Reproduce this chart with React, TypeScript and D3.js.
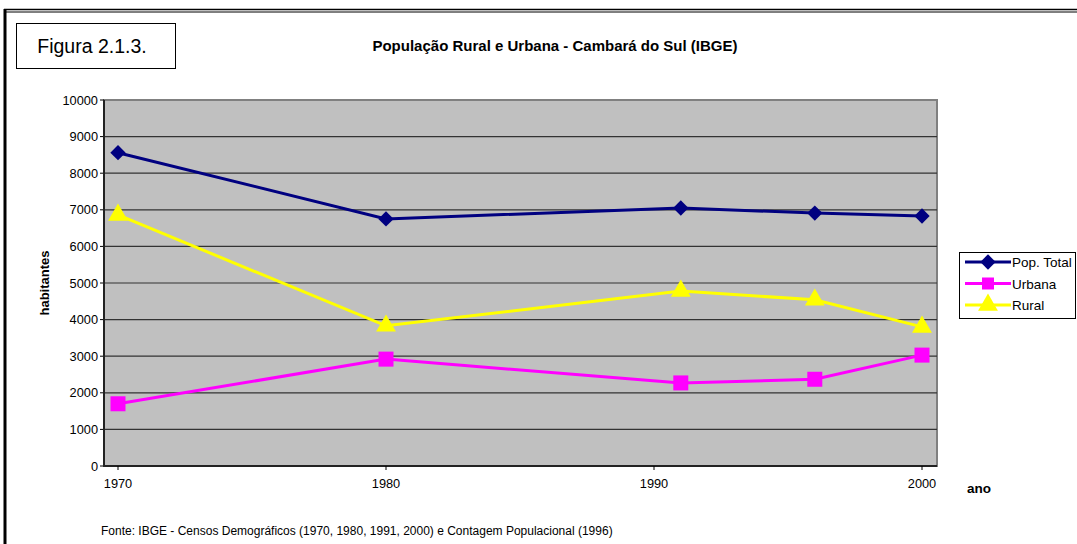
import React from "react";
import * as d3 from "d3";

const years = [1970, 1980, 1991, 1996, 2000];
const popTotal = [8560, 6750, 7050, 6910, 6830];
const urbana = [1700, 2920, 2270, 2370, 3030];
const rural = [6860, 3830, 4780, 4540, 3800];
const xTicks = [1970, 1980, 1990, 2000];
const yTicks = [0, 1000, 2000, 3000, 4000, 5000, 6000, 7000, 8000, 9000, 10000];

const seriesList = [
  { name: "Pop. Total", values: popTotal, color: "#000080", shape: "diamond" },
  { name: "Urbana", values: urbana, color: "#ff00ff", shape: "square" },
  { name: "Rural", values: rural, color: "#ffff00", shape: "triangle" },
];

const W = 1077;
const H = 544;
const plot = { left: 104, right: 937, top: 100, bottom: 466 };
const font = "Arial, 'Liberation Sans', sans-serif";

const Marker = ({ shape, color, x, y }: { shape: string; color: string; x: number; y: number }) => {
  if (shape === "diamond") {
    const p = d3.symbol(d3.symbolDiamond2, 150)();
    return <path d={p || ""} transform={`translate(${x},${y})`} fill={color} />;
  }
  if (shape === "square") {
    return <rect x={x - 7.5} y={y - 7.5} width={15} height={15} fill={color} />;
  }
  const t = d3.symbol(d3.symbolTriangle, 170)();
  return <path d={t || ""} transform={`translate(${x},${y})`} fill={color} />;
};

export default function App() {
  const x = d3.scaleLinear().domain([1970, 2000]).range([118, 922]);
  const y = d3.scaleLinear().domain([0, 10000]).range([plot.bottom, plot.top]);
  const line = d3
    .line<number>()
    .x((_, i) => x(years[i]))
    .y((d) => y(d));

  return (
    <svg
      width={W}
      height={H}
      style={{ position: "absolute", left: 0, top: 0, fontFamily: font }}
    >
      <rect width={W} height={H} fill="#fff" />
      {/* frame */}
      <line x1={4} x2={W} y1={9.5} y2={9.5} stroke="#000" strokeWidth={1.5} />
      <line x1={4} x2={W} y1={12} y2={12} stroke="#000" strokeWidth={1} />
      <line x1={5} x2={5} y1={9} y2={H} stroke="#000" strokeWidth={3} />

      {/* figure label box */}
      <rect x={16.5} y={23.5} width={159} height={45} fill="#fff" stroke="#000" strokeWidth={1} />
      <text x={92} y={53} textAnchor="middle" fontSize={19.5}>
        Figura 2.1.3.
      </text>
      <text x={555} y={51} textAnchor="middle" fontSize={15} fontWeight="bold">
        População Rural e Urbana - Cambará do Sul (IBGE)
      </text>

      {/* plot area */}
      <rect
        x={plot.left}
        y={plot.top}
        width={plot.right - plot.left}
        height={plot.bottom - plot.top}
        fill="#c0c0c0"
        stroke="#808080"
        strokeWidth={2}
      />
      {yTicks.map((t) => (
        <g key={t}>
          {t > 0 && t < 10000 && (
            <line x1={plot.left} x2={plot.right} y1={y(t)} y2={y(t)} stroke="#333" strokeWidth={1.2} />
          )}
          <line x1={plot.left - 4} x2={plot.left} y1={y(t)} y2={y(t)} stroke="#000" />
          <text x={plot.left - 6} y={y(t) + 4.5} textAnchor="end" fontSize={12.8}>
            {t}
          </text>
        </g>
      ))}
      <line x1={plot.left} x2={plot.left} y1={plot.top} y2={plot.bottom + 1} stroke="#222" strokeWidth={2} />
      <line x1={plot.left} x2={plot.right} y1={plot.bottom} y2={plot.bottom} stroke="#222" strokeWidth={2} />
      {xTicks.map((t) => (
        <g key={t}>
          <line x1={x(t)} x2={x(t)} y1={plot.bottom} y2={plot.bottom + 4} stroke="#000" />
          <text x={x(t)} y={plot.bottom + 22} textAnchor="middle" fontSize={12.8}>
            {t}
          </text>
        </g>
      ))}
      <text x={979} y={493} textAnchor="middle" fontSize={13.5} fontWeight="bold">
        ano
      </text>
      <text
        transform={`translate(49,${(plot.top + plot.bottom) / 2}) rotate(-90)`}
        textAnchor="middle"
        fontSize={13}
        fontWeight="bold"
      >
        habitantes
      </text>

      {/* series */}
      {seriesList.map((s) => (
        <g key={s.name}>
          <path d={line(s.values) || ""} fill="none" stroke={s.color} strokeWidth={3} />
          {s.values.map((v, i) => (
            <Marker key={i} shape={s.shape} color={s.color} x={x(years[i])} y={y(v)} />
          ))}
        </g>
      ))}

      {/* legend */}
      <rect x={959.5} y={252.5} width={116} height={66} fill="#fff" stroke="#000" strokeWidth={1} />
      {seriesList.map((s, i) => {
        const ly = 262 + i * 21.5;
        return (
          <g key={s.name}>
            <line x1={965} x2={1011} y1={ly} y2={ly} stroke={s.color} strokeWidth={3} />
            {s.shape === "square" ? (
              <rect x={982} y={ly - 6} width={12} height={12} fill={s.color} />
            ) : (
              <Marker shape={s.shape} color={s.color} x={988} y={ly} />
            )}
            <text x={1012} y={ly + 5} fontSize={13.5}>
              {s.name}
            </text>
          </g>
        );
      })}

      <text x={101} y={535} fontSize={12}>
        Fonte: IBGE - Censos Demográficos (1970, 1980, 1991, 2000) e Contagem Populacional (1996)
      </text>
    </svg>
  );
}
